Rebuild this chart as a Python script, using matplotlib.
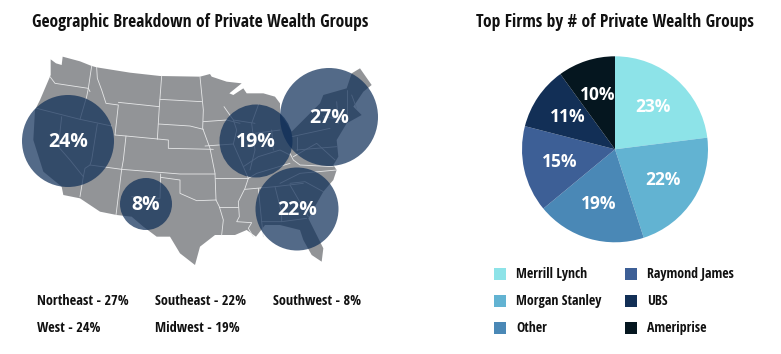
import matplotlib
matplotlib.use("Agg")
import matplotlib.pyplot as plt
from matplotlib.patches import Polygon, Circle, Rectangle

W, H = 781, 354
NARROW = ["Open Sans Condensed", "Roboto Condensed", "DejaVu Sans"]
BOLD = ["Open Sans", "DejaVu Sans"]

# Private wealth groups by region
regions = ["Northeast", "Southeast", "Southwest", "West", "Midwest"]
region_values = [27, 22, 8, 24, 19]
bubble_cx = [329, 297, 146, 68, 256]
bubble_cy = [117, 209, 204, 141, 141]
bubble_r = [49, 41.5, 26, 46, 36.5]
summary_x = [37, 155, 273, 37, 155]
summary_y = [301, 301, 301, 328, 328]

# Top firms
firms = ["Merrill Lynch", "Morgan Stanley", "Other", "Raymond James", "UBS", "Ameriprise"]
firm_values = [23, 22, 19, 15, 11, 10]
firm_colors = ["#8DE3E8", "#62B3D2", "#4A88B6", "#3D5F96", "#122F56", "#05161F"]

# US outline and state borders, traced in a 3x zoom of the picture
us_outline = [(152,58),(168,70),(185,75),(188,50),(240,64),(275,78),(290,82),(390,98),(480,108),(600,110),(630,102),(635,110),
 (680,125),(725,130),(688,160),(700,165),(730,145),(740,160),(790,160),(825,170),(840,190),(840,220),(875,275),
 (960,190),(970,165),(1040,145),(1055,100),(1080,85),(1115,135),(1090,155),(1060,200),(1085,225),(1040,250),(1010,300),
 (1015,350),(1000,375),(1010,390),(1000,420),(970,455),(925,535),(970,625),(965,665),(935,645),(910,600),(900,570),
 (840,555),(795,555),(768,590),(740,570),(705,585),(645,585),(600,620),(585,675),(540,640),(510,590),(470,590),
 (430,560),(395,530),(350,525),(300,515),(240,475),(190,465),(185,440),(130,395),(100,300),(105,210),(120,180),(152,105)]
state_lines = [
 [(150,110),(165,130),(265,145),(270,155)], [(275,78),(265,145),(260,170),(240,238)],
 [(290,82),(292,115),(305,150),(318,190),(355,195),(345,285)], [(110,205),(240,238),(335,258)],
 [(355,187),(478,200)], [(485,108),(478,200),(472,298)], [(480,178),(605,185)], [(475,252),(570,258),(610,268)],
 [(600,110),(610,210),(608,265),(630,325),(645,400),(648,480)], [(345,285),(378,288),(505,300),(505,325),(640,328)],
 [(378,288),(370,360),(365,388),(348,525)], [(185,230),(175,320),(210,360),(250,410),(240,470)],
 [(292,252),(275,360),(270,375),(255,385),(250,410)], [(270,375),(365,388),(540,402),(645,402)],
 [(482,402),(480,475),(395,470)], [(482,412),(540,420),(540,460),(590,482),(648,480)],
 [(645,415),(745,415)], [(648,480),(658,500),(670,540),(665,585)], [(658,500),(715,500)],
 [(745,415),(735,445),(715,485),(718,530),(710,545),(755,548),(745,565),(760,590)],
 [(735,448),(825,440),(910,430)], [(775,445),(785,545),(790,590)], [(825,440),(845,520),(845,545)],
 [(785,545),(845,545),(920,535)], [(870,435),(925,530)], [(870,430),(915,425),(970,455)], [(840,430),(900,400),(1010,390)],
 [(745,415),(770,400),(870,370)], [(870,340),(880,360),(900,375),(1000,380)],
 [(610,245),(680,240),(720,250)], [(615,318),(700,312)], [(672,200),(700,240),(710,270),(700,312),(730,380),(745,415)],
 [(700,240),(765,250)], [(775,195),(755,250),(765,330),(750,390)], [(765,280),(840,270)], [(815,270),(820,330)],
 [(730,380),(775,350),(840,330),(870,345)], [(875,290),(990,265)], [(890,330),(1010,320)], [(880,350),(950,310),(1005,360)],
 [(890,290),(890,330)], [(1010,185),(1015,250)], [(1040,150),(1040,230)], [(1055,165),(1070,205)], [(970,230),(1030,240)],
]

def to_xy(points):
    return [(x / 3, 40 + y / 3) for x, y in points]

fig = plt.figure(figsize=(W / 100, H / 100), dpi=100, facecolor="white")
ax = fig.add_axes([0, 0, 1, 1])
ax.set_xlim(0, W)
ax.set_ylim(H, 0)
ax.axis("off")

ax.add_patch(Polygon(to_xy(us_outline), closed=True, facecolor="#929497", edgecolor="none", zorder=1))
for line in state_lines:
    xs, ys = zip(*to_xy(line))
    ax.plot(xs, ys, color="#E6E7E8", lw=0.6, zorder=2, solid_capstyle="round")

for cx, cy, r, v in zip(bubble_cx, bubble_cy, bubble_r, region_values):
    ax.add_patch(Circle((cx, cy), r, facecolor="#0D2D57", edgecolor="none", alpha=0.71, zorder=3))
    ax.text(cx, cy + 1, f"{v}%", color="white", fontsize=14, fontweight="bold", family=BOLD,
            ha="center", va="center", zorder=4)

ax.text(200, 22, "Geographic Breakdown of Private Wealth Groups", fontsize=12.6, fontweight="bold",
        family=NARROW, ha="center", va="center", color="#111111")
ax.text(615, 22, "Top Firms by # of Private Wealth Groups", fontsize=12.6, fontweight="bold",
        family=NARROW, ha="center", va="center", color="#111111")

for name, v, x, y in zip(regions, region_values, summary_x, summary_y):
    ax.text(x, y, f"{name} - {v}%", fontsize=10.4, fontweight="bold", family=NARROW,
            ha="left", va="center", color="#111111")

# Pie
cx, cy, R = 615, 149.3, 93
pie_ax = fig.add_axes([(cx - R) / W, 1 - (cy + R) / H, 2 * R / W, 2 * R / H])
wedges, _, autotexts = pie_ax.pie(firm_values, colors=firm_colors, startangle=90, counterclock=False,
                                  radius=1, autopct="%d%%", pctdistance=0.61,
                                  textprops=dict(color="white", fontsize=12.5, fontweight="bold", family=BOLD))
pie_ax.set_xlim(-1, 1)
pie_ax.set_ylim(-1, 1)

# Legend
square = 12
rows_y = [274, 301, 328, 274, 301, 328]
sq_x = [494, 494, 494, 625, 625, 625]
for name, col, x, y in zip(firms, firm_colors, sq_x, rows_y):
    ax.add_patch(Rectangle((x, y - square / 2), square, square, facecolor=col, edgecolor="none"))
    ax.text(x + square + 10, y, name, fontsize=10, fontweight="bold", family=NARROW,
            ha="left", va="center", color="#111111")

fig.savefig("out.png", dpi=100, facecolor="white")
